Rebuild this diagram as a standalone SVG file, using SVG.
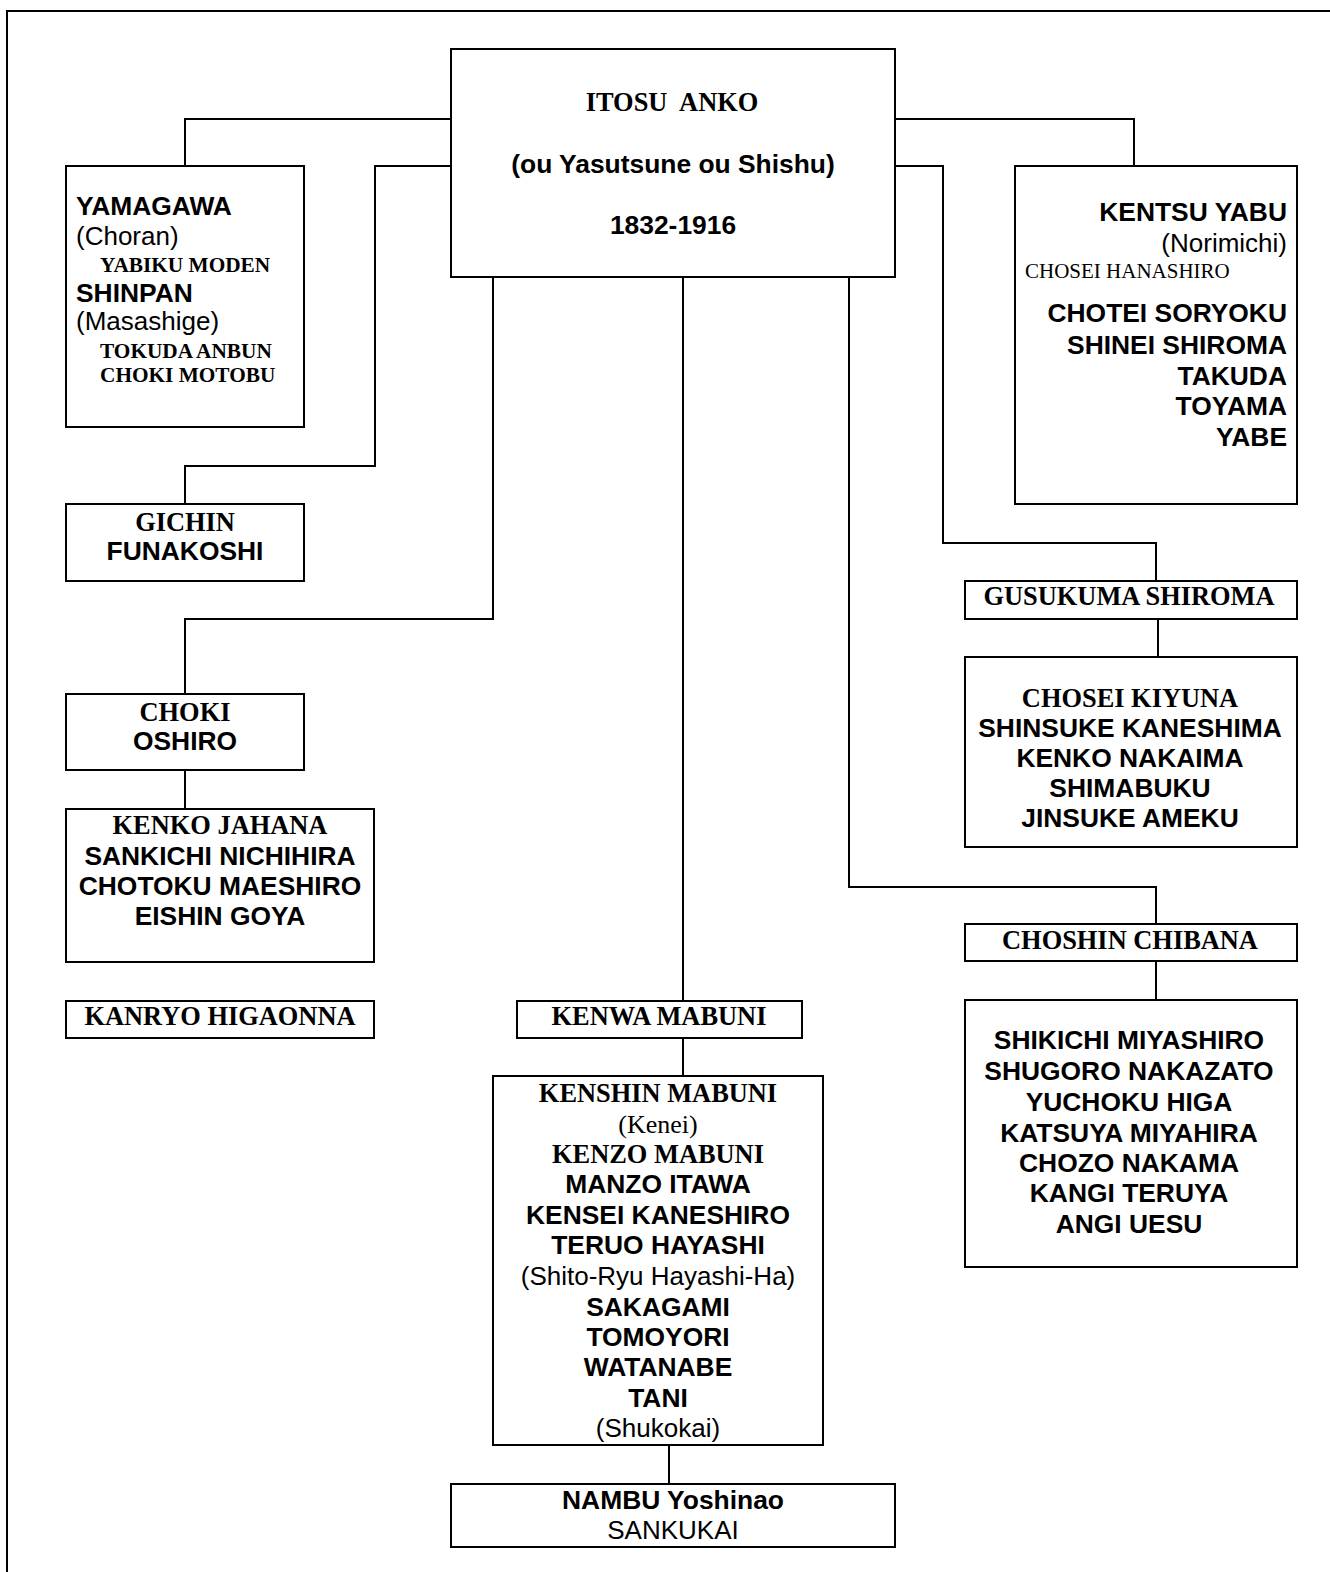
<svg xmlns="http://www.w3.org/2000/svg" width="1330" height="1572" viewBox="0 0 1330 1572">
<style>
.bg{fill:#fff}
.frame{fill:none;stroke:#000;stroke-width:2}
.box{fill:#fff;stroke:#000;stroke-width:2}
.wire{fill:none;stroke:#000;stroke-width:2}
text{fill:#000}
.sb{font-family:"Liberation Sans",Arial,sans-serif;font-weight:bold;font-size:26.4px}
.sr{font-family:"Liberation Sans",Arial,sans-serif;font-size:26px}
.fb{font-family:"Liberation Serif","Times New Roman",serif;font-weight:bold;font-size:26.4px}
.fr{font-family:"Liberation Serif","Times New Roman",serif;font-size:26px}
.fbs{font-family:"Liberation Serif","Times New Roman",serif;font-weight:bold;font-size:21.3px}
.frs{font-family:"Liberation Serif","Times New Roman",serif;font-size:21px}
.c{text-anchor:middle}
.r{text-anchor:end}
.pre{white-space:pre}
</style>
<rect class="bg" x="0" y="0" width="1330" height="1572"/>
<path class="frame" d="M1330,11 H7 V1572"/>
<g id="connectors">
<path class="wire" d="M451,119 H185 V166"/>
<path class="wire" d="M451,166 H375 V466 H185 V504"/>
<path class="wire" d="M493,277 V619 H185 V694"/>
<path class="wire" d="M185,770 V809"/>
<path class="wire" d="M683,277 V1001"/>
<path class="wire" d="M683,1038 V1076"/>
<path class="wire" d="M669,1445 V1484"/>
<path class="wire" d="M849,277 V887 H1156 V924"/>
<path class="wire" d="M1156,961 V1000"/>
<path class="wire" d="M895,166 H943 V543 H1156 V581"/>
<path class="wire" d="M1158,619 V657"/>
<path class="wire" d="M895,119 H1134 V166"/>
</g>
<g id="itosu">
<rect class="box" x="451" y="49" width="444" height="228"/>
<text class="fb c pre" x="672" y="111" xml:space="preserve">ITOSU  ANKO</text>
<text class="sb c" x="673" y="173">(ou Yasutsune ou Shishu)</text>
<text class="sb c" x="673" y="234">1832-1916</text>
</g>
<g id="yamagawa">
<rect class="box" x="66" y="166" width="238" height="261"/>
<text class="sb" x="76" y="215">YAMAGAWA</text>
<text class="sr" x="76" y="245">(Choran)</text>
<text class="fbs" x="100" y="272">YABIKU MODEN</text>
<text class="sb" x="76" y="302">SHINPAN</text>
<text class="sr" x="76" y="330">(Masashige)</text>
<text class="fbs" x="100" y="358">TOKUDA ANBUN</text>
<text class="fbs" x="100" y="382">CHOKI MOTOBU</text>
</g>
<g id="gichin">
<rect class="box" x="66" y="504" width="238" height="77"/>
<text class="fb c" x="185" y="531">GICHIN</text>
<text class="sb c" x="185" y="560">FUNAKOSHI</text>
</g>
<g id="choki-oshiro">
<rect class="box" x="66" y="694" width="238" height="76"/>
<text class="fb c" x="185" y="721">CHOKI</text>
<text class="sb c" x="185" y="750">OSHIRO</text>
</g>
<g id="kenko-jahana">
<rect class="box" x="66" y="809" width="308" height="153"/>
<text class="fb c" x="220" y="834">KENKO JAHANA</text>
<text class="sb c" x="220" y="865">SANKICHI NICHIHIRA</text>
<text class="sb c" x="220" y="895">CHOTOKU MAESHIRO</text>
<text class="sb c" x="220" y="925">EISHIN GOYA</text>
</g>
<g id="kanryo">
<rect class="box" x="66" y="1001" width="308" height="37"/>
<text class="fb c" x="220" y="1025">KANRYO HIGAONNA</text>
</g>
<g id="kentsu">
<rect class="box" x="1015" y="166" width="282" height="338"/>
<text class="sb r" x="1287" y="221">KENTSU YABU</text>
<text class="sr r" x="1287" y="252">(Norimichi)</text>
<text class="frs" x="1025" y="278">CHOSEI HANASHIRO</text>
<text class="sb r" x="1287" y="322">CHOTEI SORYOKU</text>
<text class="sb r" x="1287" y="354">SHINEI SHIROMA</text>
<text class="sb r" x="1287" y="385">TAKUDA</text>
<text class="sb r" x="1287" y="415">TOYAMA</text>
<text class="sb r" x="1287" y="446">YABE</text>
</g>
<g id="gusukuma">
<rect class="box" x="965" y="581" width="332" height="38"/>
<text class="fb c" x="1129" y="605">GUSUKUMA SHIROMA</text>
</g>
<g id="chosei-kiyuna">
<rect class="box" x="965" y="657" width="332" height="190"/>
<text class="fb c" x="1130" y="707">CHOSEI KIYUNA</text>
<text class="sb c" x="1130" y="737">SHINSUKE KANESHIMA</text>
<text class="sb c" x="1130" y="767">KENKO NAKAIMA</text>
<text class="sb c" x="1130" y="797">SHIMABUKU</text>
<text class="sb c" x="1130" y="827">JINSUKE AMEKU</text>
</g>
<g id="choshin">
<rect class="box" x="965" y="924" width="332" height="37"/>
<text class="fb c" x="1130" y="949">CHOSHIN CHIBANA</text>
</g>
<g id="shikichi">
<rect class="box" x="965" y="1000" width="332" height="267"/>
<text class="sb c" x="1129" y="1049">SHIKICHI MIYASHIRO</text>
<text class="sb c" x="1129" y="1080">SHUGORO NAKAZATO</text>
<text class="sb c" x="1129" y="1111">YUCHOKU HIGA</text>
<text class="sb c" x="1129" y="1142">KATSUYA MIYAHIRA</text>
<text class="sb c" x="1129" y="1172">CHOZO NAKAMA</text>
<text class="sb c" x="1129" y="1202">KANGI TERUYA</text>
<text class="sb c" x="1129" y="1233">ANGI UESU</text>
</g>
<g id="kenwa">
<rect class="box" x="517" y="1001" width="285" height="37"/>
<text class="fb c" x="659" y="1025">KENWA MABUNI</text>
</g>
<g id="kenshin">
<rect class="box" x="493" y="1076" width="330" height="369"/>
<text class="fb c" x="658" y="1102">KENSHIN MABUNI</text>
<text class="fr c" x="658" y="1133">(Kenei)</text>
<text class="fb c" x="658" y="1163">KENZO MABUNI</text>
<text class="sb c" x="658" y="1193">MANZO ITAWA</text>
<text class="sb c" x="658" y="1224">KENSEI KANESHIRO</text>
<text class="sb c" x="658" y="1254">TERUO HAYASHI</text>
<text class="sr c" x="658" y="1285">(Shito-Ryu Hayashi-Ha)</text>
<text class="sb c" x="658" y="1316">SAKAGAMI</text>
<text class="sb c" x="658" y="1346">TOMOYORI</text>
<text class="sb c" x="658" y="1376">WATANABE</text>
<text class="sb c" x="658" y="1407">TANI</text>
<text class="sr c" x="658" y="1437">(Shukokai)</text>
</g>
<g id="nambu">
<rect class="box" x="451" y="1484" width="444" height="63"/>
<text class="sb c" x="673" y="1509">NAMBU Yoshinao</text>
<text class="sr c" x="673" y="1539">SANKUKAI</text>
</g>
</svg>
